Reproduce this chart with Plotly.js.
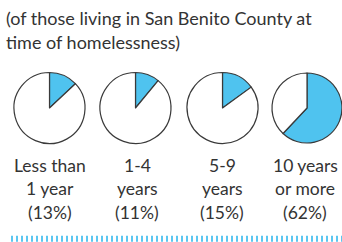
<!DOCTYPE html>
<html><head><meta charset="utf-8">
<script src="https://cdn.plot.ly/plotly-3.0.1.min.js"></script>
<style>html,body{margin:0;padding:0;background:#fff}#c{width:342px;height:242px}</style>
</head><body><div id="c"></div>
<script>
const categoryLine1 = ["Less than", "1-4", "5-9", "10 years"];
const categoryLine2 = ["1 year", "years", "years", "or more"];
const shares = [13, 11, 15, 62];
const pctLabels = ["(13%)", "(11%)", "(15%)", "(62%)"];
const subtitleLines = ["(of those living in San Benito County at", "time of homelessness)"];

const W = 342, H = 242;
const centersX = [49.5, 135.5, 222.5, 307.5];
const labelX = [50, 137, 222, 305];
const cy = 108, r = 35.5;
const blue = "#4fc3ef", edge = "#3a3a3a";
const fam = "Lato, sans-serif";

const traces = shares.map((v, i) => {
  const x0 = (centersX[i] - r) / W, x1 = Math.min(1, (centersX[i] + r) / W);
  return {
    type: "pie",
    values: [v, 100 - v],
    labels: ["a", "b"],
    sort: false,
    direction: "clockwise",
    rotation: 0,
    textinfo: "none",
    hoverinfo: "skip",
    showlegend: false,
    marker: {colors: [blue, "#ffffff"], line: {color: edge, width: 1.2}},
    domain: {x: [x0, x1], y: [1 - (cy + r) / H, 1 - (cy - r) / H]}
  };
});

const annotations = [];
subtitleLines.forEach((t, j) => {
  annotations.push({
    text: t, xref: "paper", yref: "paper", x: 4 / W, y: 1 - [18, 42][j] / H,
    xanchor: "left", yanchor: "middle", align: "left", showarrow: false,
    font: {family: fam, size: 18, color: "#333"}
  });
});
categoryLine1.forEach((c, i) => {
  [c, categoryLine2[i], pctLabels[i]].forEach((t, j) => {
    annotations.push({
      text: t, xref: "paper", yref: "paper",
      x: labelX[i] / W, y: 1 - [165, 188.5, 212][j] / H, xanchor: "center", yanchor: "middle",
      align: "center", showarrow: false,
      font: {family: fam, size: 17.5, color: "#333"}
    });
  });
});

const layout = {
  width: W, height: H, margin: {l: 0, r: 0, t: 0, b: 0},
  paper_bgcolor: "#fff", plot_bgcolor: "#fff",
  annotations: annotations,
  shapes: [{type: "line", xref: "paper", yref: "paper", x0: 11 / W, x1: 1, y0: 1 - 238.7 / H, y1: 1 - 238.7 / H,
    line: {color: "#5cc6f0", width: 6, dash: "2px,3px"}}]
};
Plotly.newPlot("c", traces, layout, {staticPlot: true, displayModeBar: false});
</script></body></html>
